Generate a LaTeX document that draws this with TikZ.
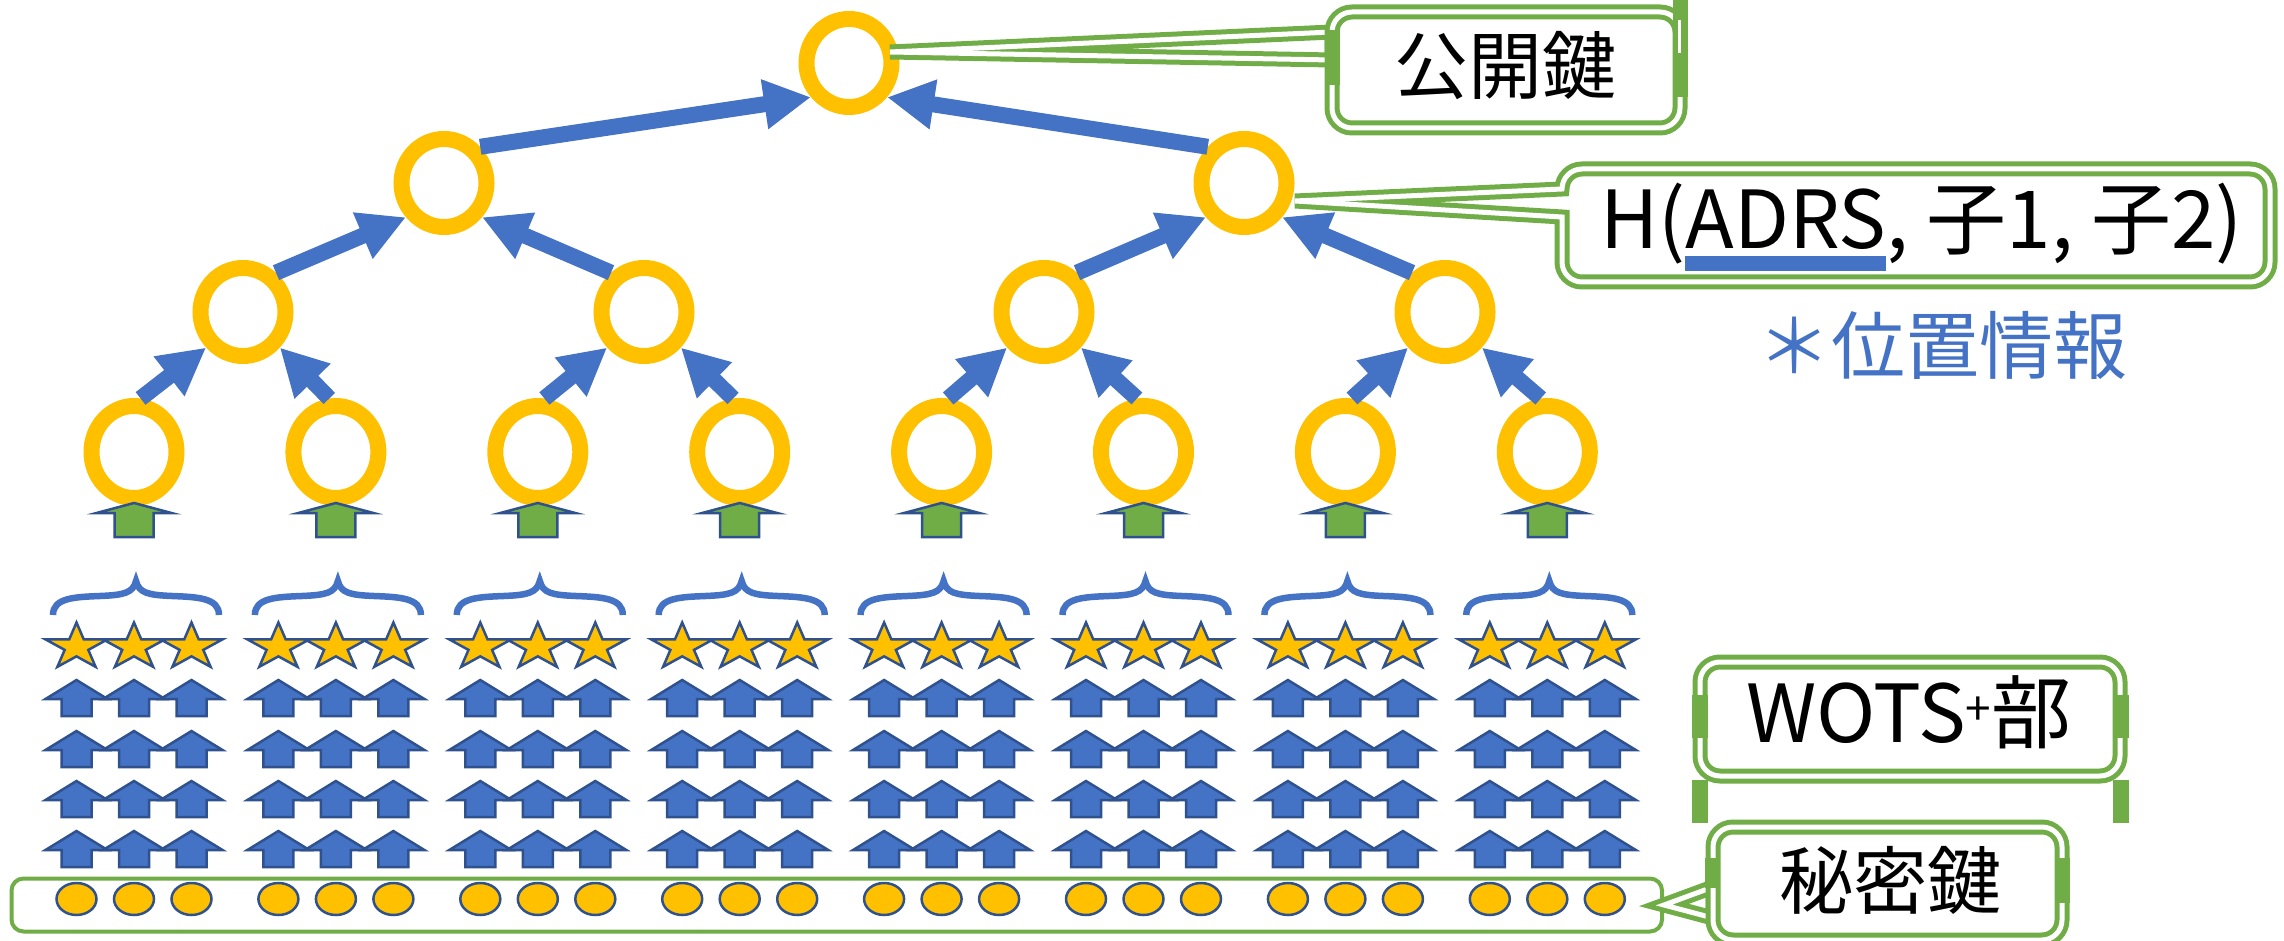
\documentclass[tikz,border=0pt]{standalone}
\usepackage{fontspec}
\setmainfont{Noto Sans CJK JP}
\usetikzlibrary{arrows.meta,shapes.geometric,calc}
\definecolor{oyellow}{HTML}{FFC000}
\definecolor{oblue}{HTML}{4472C4}
\definecolor{ogreen}{HTML}{70AD47}
\definecolor{odark}{HTML}{2F528F}
\newcommand\adrsul[1]{\setbox0\hbox{#1}\rlap{\color{oblue}\rule[-22pt]{\wd0}{15pt}}\box0}
\begin{document}
\begin{tikzpicture}[x=1pt,y=-1pt,
  ring/.style={ellipse, draw=oyellow, line width=16pt, minimum width=85pt, minimum height=88pt, inner sep=0pt},
  leaf/.style={ring, minimum height=92pt},
  tarrow/.style={draw=oblue, line width=16pt, -{Triangle[length=47pt,width=47pt]}},
  dbl/.style={draw=ogreen, line width=5pt, double=white, double distance=5pt},
  boxsty/.style={dbl, fill=white, rounded corners=20pt},
  txt/.style={inner sep=0pt, font=\fontsize{74pt}{80pt}\selectfont},
  bigtxt/.style={inner sep=0pt, font=\fontsize{80pt}{86pt}\selectfont},
  starsty/.style={fill=oyellow, draw=odark, line width=2.5pt, line join=miter},
  barrow/.style={fill=oblue, draw=odark, line width=2.5pt},
  garrow/.style={fill=ogreen, draw=odark, line width=2.5pt},
  dotsty/.style={fill=oyellow, draw=odark, line width=2.5pt},
  bracesty/.style={draw=oblue, line width=6.5pt}]
\useasboundingbox (0,0) rectangle (2284,941);

% ---------- tree ----------
\node[ring] (t) at (849,63) {};
\node[ring] (a1) at (444,183) {};
\node[ring] (a2) at (1244,183) {};
\node[ring] (b1) at (243,312) {};
\node[ring] (b2) at (644,312) {};
\node[ring] (b3) at (1044,312) {};
\node[ring] (b4) at (1445,312) {};
\foreach \i in {1,...,8} {
  \pgfmathsetmacro\cx{134+201.9*(\i-1)}
  \node[leaf] (c\i) at (\cx,452) {};
}

\draw[tarrow] (a1.45) -- (t.222);
\draw[tarrow] (a2.135) -- (t.318);
\draw[tarrow] (b1.50) -- (a1.222);
\draw[tarrow] (b2.130) -- (a1.318);
\draw[tarrow] (b3.50) -- (a2.222);
\draw[tarrow] (b4.130) -- (a2.318);
\draw[tarrow] (c1.83) -- (b1.224);
\draw[tarrow] (c2.97) -- (b1.316);
\draw[tarrow] (c3.83) -- (b2.224);
\draw[tarrow] (c4.97) -- (b2.316);
\draw[tarrow] (c5.83) -- (b3.224);
\draw[tarrow] (c6.97) -- (b3.316);
\draw[tarrow] (c7.83) -- (b4.224);
\draw[tarrow] (c8.97) -- (b4.316);

% ---------- WOTS+ part ----------
\foreach \i in {1,...,8} {
  \pgfmathsetmacro\cx{134+201.9*(\i-1)}
  % green up arrow
  \draw[garrow] (\cx,503) -- ++(37.5,10) -- ++(-18,0) -- ++(0,24) -- ++(-39,0) -- ++(0,-24) -- ++(-18,0) -- cycle;
  % brace
  \pgfmathsetmacro\bx{\cx+2}
  \draw[bracesty] ({\bx-83},615) .. controls ({\bx-83},598) and ({\bx-62},597) .. ({\bx-36},596)
     .. controls ({\bx-12},595) and ({\bx-3},593) .. (\bx,581)
     .. controls ({\bx+3},593) and ({\bx+12},595) .. ({\bx+36},596)
     .. controls ({\bx+62},597) and ({\bx+83},598) .. ({\bx+83},615);
  \foreach \o in {-57.5,0,57.5} {
    \pgfmathsetmacro\sx{\cx+\o}
    % star
    \draw[starsty] (\sx,622.5) \foreach \a/\r in {126/0.382,162/1,198/0.382,234/1,270/0.382,306/1,342/0.382,18/1,54/0.382} { -- ({\sx+32.5*\r*cos(\a)},{647-24.5*\r*sin(\a)}) } -- cycle;
    % blue arrows
    \foreach \ty in {680,731,781,831} {
      \draw[barrow] (\sx,\ty) -- ++(31,19) -- ++(-16,0) -- ++(0,17) -- ++(-30,0) -- ++(0,-17) -- ++(-16,0) -- cycle;
    }
    % secret key dot
    \draw[dotsty] (\sx,899) ellipse[x radius=20, y radius=16];
  }
}
\node[draw=ogreen, line width=4pt, rounded corners=12pt, minimum width=1650.5pt, minimum height=53pt, inner sep=0pt] (skbox) at (836.75,905) {};

% ---------- callout: public key ----------
\coordinate (pktip) at ($(t.center)+(41,-11)$);
\draw[dbl] (1332,32) -- (pktip) -- (1332,60) -- cycle;
\draw[boxsty] (1332,12) rectangle (1680,128);
\fill[ogreen] (1325,30) rectangle (1340,85);
\fill[ogreen] (1673,0) rectangle (1688,97);
\fill[white] (1678,20) rectangle (1681,53);
\node[txt] (pk) at (1505,66) {公開鍵};

% ---------- callout: H(ADRS, ...) ----------
\coordinate (htip) at ($(a2.center)+(51,18)$);
\draw[dbl, fill=white] (htip) -- (1562,189) arc[start angle=180, end angle=270, radius=20]
  -- (2250,169) arc[start angle=270, end angle=360, radius=20]
  -- (2270,262) arc[start angle=0, end angle=90, radius=20]
  -- (1582,282) arc[start angle=90, end angle=180, radius=20]
  -- (1562,217) -- cycle;
\node[bigtxt, anchor=base west] (hf) at (1600,249) {H(\adrsul{ADRS}, 子1, 子2)};
\node[txt, text=oblue] (pos) at (1942,345) {＊位置情報};

% ---------- callout: WOTS+ ----------
\draw[boxsty] (1700,662) rectangle (2120,776);
\fill[ogreen] (1692,695) rectangle (1708,738);
\fill[ogreen] (1692,780) rectangle (1708,823);
\fill[ogreen] (2113,695) rectangle (2129,738);
\fill[ogreen] (2113,780) rectangle (2129,823);
\node[bigtxt, anchor=base] (wots) at (1909,742) {WOTS\raisebox{17pt}{\fontsize{46pt}{46pt}\selectfont +}部};

% ---------- callout: secret key ----------
\draw[dbl] (1713,887) -- (skbox.east) -- (1713,918) -- cycle;
\draw[boxsty] (1713,827) rectangle (2062,940);
\fill[ogreen] (1705,858) rectangle (1720,888);
\fill[ogreen] (2055,858) rectangle (2070,903);
\node[txt] (sk) at (1890,880) {秘密鍵};
\end{tikzpicture}
\end{document}
